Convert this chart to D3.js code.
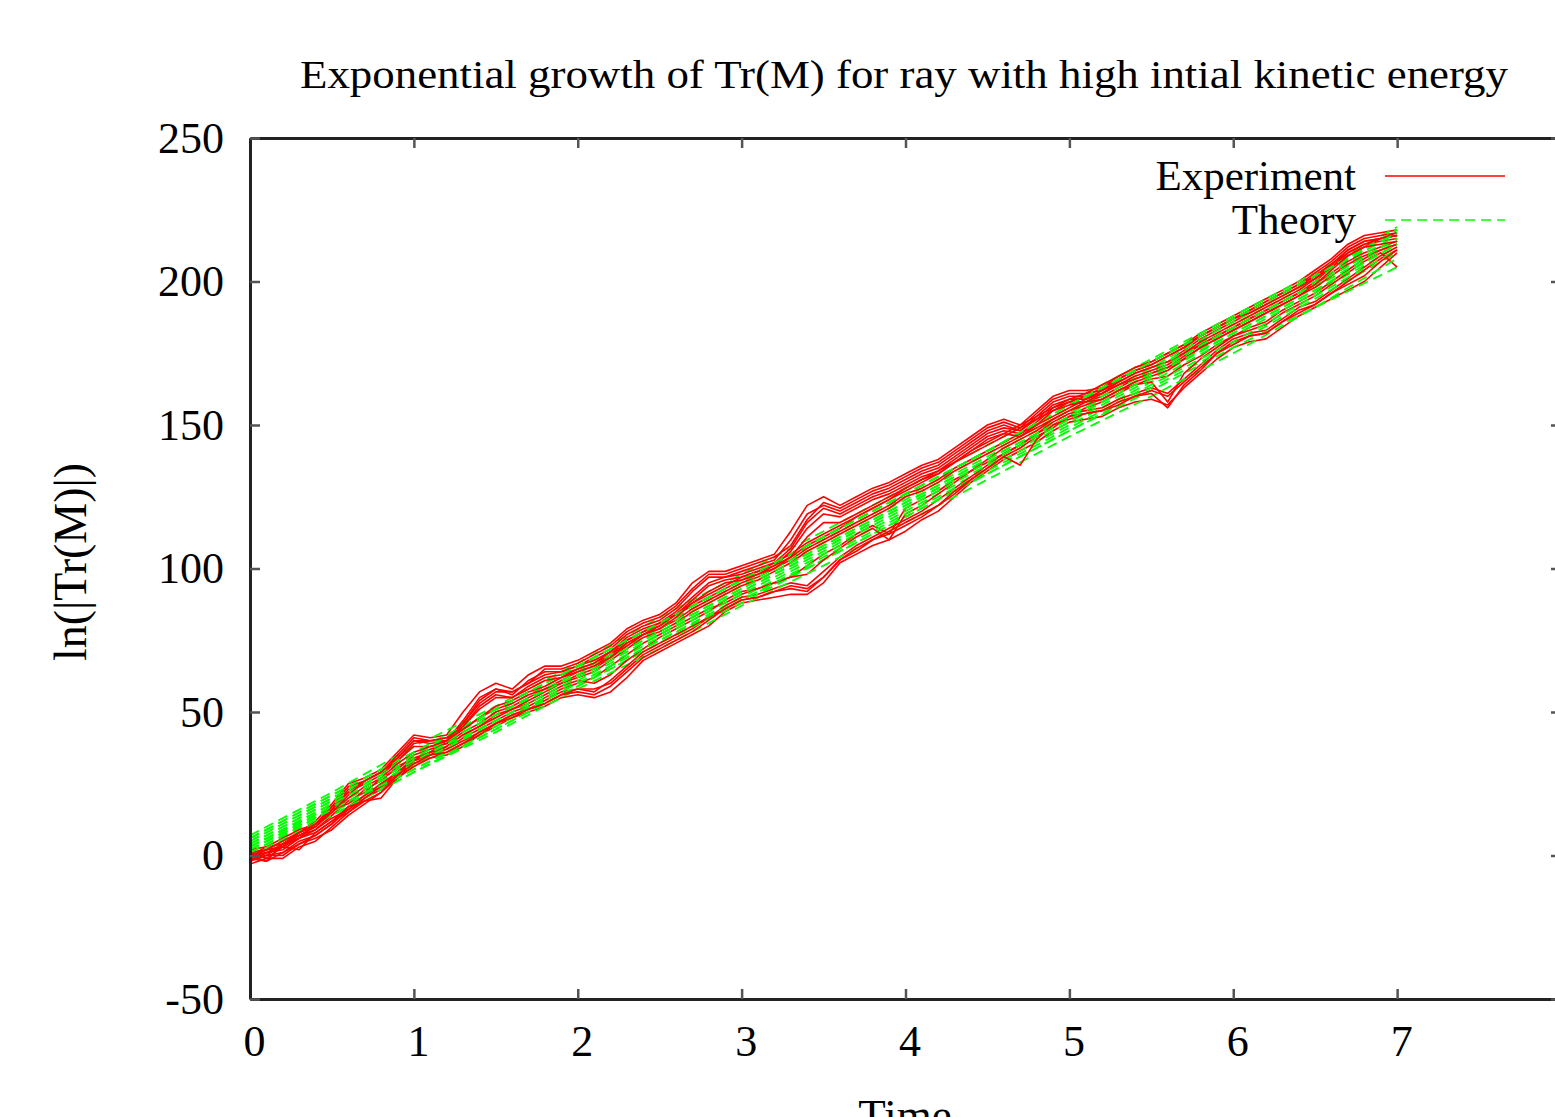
<!DOCTYPE html>
<html>
<head>
<meta charset="utf-8">
<script src="https://cdn.jsdelivr.net/npm/d3@7"></script>
<style>
    body { margin: 0; background: #fff; }
    #chart { width: 1555px; height: 1117px; overflow: hidden; }
    text { font-family: "Liberation Serif", "DejaVu Serif", serif; fill: #000; }
</style>
</head>
<body>
<div id="chart"></div>
<script>
// time grid for the experiment curves (step 0.1) and the theory lines (step 0.5)
const expTimes = d3.range(0, 71).map(i => i / 10);
const theoryTimes = d3.range(0, 15).map(i => i / 2);

const xTicks = [0, 1, 2, 3, 4, 5, 6, 7, 8];
const yTicks = [-50, 0, 50, 100, 150, 200, 250];

// experiment: ln|Tr(M)|, one array per ray
const exp1 = [0,2,5,8,12,18,25,27,30,36,42,41,42,50,57,60,58,63,66,66,68,71,74,79,82,84,88,95,99,99,101,103,105,113,122,125,122,125,128,130,133,136,138,142,146,150,152,150,155,160,162,162,163,167,170,172,175,178,182,185,188,191,194,197,200,204,208,213,216,217,218];
const exp2 = [-1,1,3,7,10,16,23,26,29,34,40,39,40,47,55,58,56,61,64,64,66,69,72,77,80,82,86,92,97,97,99,101,103,110,119,122,120,123,126,128,131,134,136,140,144,148,150,148,153,158,160,160,161,165,168,170,172,176,180,183,186,189,192,195,198,202,206,211,214,215,216];
const exp3 = [1,0,4,6,11,17,22,25,28,33,38,38,39,45,52,56,55,59,62,63,65,67,70,75,78,80,84,89,94,96,97,99,101,106,114,119,118,121,124,126,129,132,134,138,142,146,148,147,151,156,158,158,160,163,166,168,170,174,178,181,184,187,190,193,196,200,205,210,213,214,215];
const exp4 = [0,-2,4,7,9,14,19,22,27,30,35,37,39,43,46,50,52,55,58,61,64,66,70,74,77,79,82,86,89,92,95,97,100,103,107,110,113,116,119,122,126,128,131,135,138,141,144,147,150,153,156,159,162,165,168,170,172,175,178,181,184,187,190,193,196,199,203,207,210,212,214];
const exp5 = [-2,1,2,6,8,12,17,21,24,29,33,35,37,41,44,47,50,52,55,58,60,62,66,70,74,77,80,83,86,88,91,93,95,97,101,105,108,112,115,112,121,124,127,131,134,137,140,143,147,150,153,156,158,161,164,166,167,171,174,178,181,184,186,190,193,196,200,204,208,211,213];
const exp6 = [-3,-1,-1,3,5,10,15,19,20,27,32,34,35,38,42,45,48,50,52,55,56,55,57,62,68,71,74,77,80,85,88,89,90,91,91,95,102,105,108,110,113,117,120,125,130,134,138,141,144,148,151,152,153,156,158,159,157,163,168,173,177,179,180,184,188,191,194,197,200,205,210];
const exp7 = [-1,0,1,5,7,11,16,20,23,28,33,36,37,40,43,46,49,51,54,57,58,58,60,65,70,73,76,79,83,87,90,91,93,95,94,99,104,108,111,114,117,120,124,128,132,136,140,143,147,151,154,155,156,159,161,163,161,166,171,176,180,182,183,187,191,193,197,201,205,209,212];
const exp8 = [2,3,6,9,11,16,18,23,26,31,34,36,40,44,48,51,53,56,58,60,63,65,69,73,77,80,84,87,90,93,96,98,101,104,108,111,114,118,121,124,127,130,133,137,140,143,146,149,152,155,158,160,163,166,169,171,174,177,181,184,187,189,192,195,198,201,205,209,212,215,216];
const exp9 = [0,3,4,8,11,17,24,26,29,35,41,40,40,46,54,58,57,60,65,65,67,70,73,78,81,83,87,93,98,98,100,102,104,108,117,123,121,124,127,129,132,135,137,141,145,149,151,149,154,159,161,161,162,166,169,171,174,177,181,184,187,190,193,196,199,203,207,212,215,216,217];
const exp10 = [-1,2,3,6,9,13,16,21,25,29,34,35,38,42,45,48,51,53,56,59,61,60,63,68,72,76,79,82,85,89,92,93,95,97,98,103,107,111,114,110,119,122,126,130,134,138,142,145,148,152,155,157,159,162,164,165,158,168,173,177,181,183,185,189,192,195,199,203,207,210,205];
const exp11 = [0,1,4,7,10,16,22,26,29,33,39,40,41,46,53,57,57,60,63,64,66,68,71,76,79,81,85,90,95,97,98,100,102,107,116,121,119,122,125,127,130,133,135,139,143,147,149,148,152,157,159,159,161,164,167,169,171,175,179,182,185,188,191,194,197,201,206,211,214,215,216];
const exp12 = [1,-1,3,2,8,12,15,20,24,28,33,36,38,42,45,49,51,54,57,60,62,64,68,72,76,78,81,85,88,91,94,96,99,102,106,109,112,115,118,121,125,127,130,134,137,140,143,146,149,152,155,158,161,164,166,168,170,173,177,180,183,186,189,192,195,198,202,206,209,211,213];
const exp13 = [-2,0,0,4,6,9,14,18,22,27,31,34,36,39,43,46,49,51,53,56,58,57,61,66,71,74,77,80,83,86,89,90,92,94,93,97,103,106,110,113,116,119,122,126,131,135,139,142,146,149,153,154,155,157,160,162,160,165,170,175,179,181,182,186,190,192,196,200,204,208,211];
const exp14 = [1,2,5,8,11,15,20,24,27,32,36,38,40,44,48,52,54,57,59,62,65,67,71,75,78,81,84,88,91,94,97,99,102,105,109,112,115,118,121,124,128,131,134,137,141,144,147,150,153,156,159,161,164,167,170,172,175,178,181,184,187,190,193,196,199,202,206,210,213,215,217];
const exp15 = [-1,-2,1,4,7,11,17,19,22,28,32,35,36,39,42,46,48,51,53,56,57,56,59,64,69,72,75,78,82,86,89,90,92,93,92,97,103,107,110,112,115,118,122,127,131,135,139,136,145,150,152,154,155,158,160,161,156,164,169,175,178,181,182,186,189,192,196,199,202,207,211];
const exp16 = [0,2,3,8,10,15,21,26,29,34,40,40,41,45,51,55,55,58,61,62,64,66,69,74,77,79,83,88,92,95,96,98,100,104,111,116,116,119,122,125,128,131,133,137,141,145,147,146,150,155,157,158,159,162,165,167,169,173,177,180,183,186,189,192,195,199,204,209,212,213,214];

// theory: straight-ish prediction for each ray
const theory1 = [7,22,38,52,67,83,98,113,128,143,158,173,188,203,219];
const theory2 = [6,21,36,51,66,81,96,111,126,141,156,172,187,202,218];
const theory3 = [5,20,35,50,65,80,95,110,125,140,155,170,186,201,217];
const theory4 = [4,19,34,49,64,79,94,109,124,139,154,169,185,200,216];
const theory5 = [3,17,32,47,62,77,92,107,122,137,152,167,183,198,214];
const theory6 = [2,16,31,46,60,75,90,105,120,135,150,165,181,196,212];
const theory7 = [1,15,30,44,59,74,88,103,118,133,148,163,178,194,210];
const theory8 = [-1,14,29,44,59,74,89,103,118,133,148,162,177,191,205];
const theory9 = [3,18,33,48,63,78,93,108,123,138,153,168,184,199,215];
const theory10 = [0,14,29,43,58,72,87,101,116,131,146,160,175,191,208];
const theory11 = [5,20,35,51,66,81,96,111,126,141,157,172,187,202,218];
const theory12 = [2,17,32,46,61,76,91,106,121,136,151,166,182,197,213];
const theory13 = [4,19,34,49,63,78,93,108,123,138,153,168,184,199,215];
const theory14 = [1,16,30,45,60,75,89,104,119,134,149,164,179,195,211];
const theory15 = [6,21,36,51,66,81,96,111,126,141,157,172,187,202,217];
const theory16 = [3,18,33,47,62,77,92,107,122,137,152,167,182,197,213];

const experiments = [exp1, exp2, exp3, exp4, exp5, exp6, exp7, exp8, exp9, exp10, exp11, exp12, exp13, exp14, exp15, exp16];
const theories = [theory1, theory2, theory3, theory4, theory5, theory6, theory7, theory8, theory9, theory10, theory11, theory12, theory13, theory14, theory15, theory16];

const red = '#ff0000',
    green = '#00ff00';

let w = 1555,
    h = 1117;

let svg = d3.select('#chart')
    .append('svg')
        .attr('width', w)
        .attr('height', h);

const x = d3.scaleLinear()
    .domain([0, 8])
    .range([250, 1561]);

const y = d3.scaleLinear()
    .domain([-50, 250])
    .range([999, 138]);

// clip so nothing leaks past the frame
svg.append('clipPath')
    .attr('id', 'plot-clip')
    .append('rect')
        .attr('x', x(0))
        .attr('y', y(250))
        .attr('width', x(8) - x(0))
        .attr('height', y(-50) - y(250));

let line = d3.line()
    .x(d => x(d[0]))
    .y(d => y(d[1]));

let curves = svg.append('g').attr('clip-path', 'url(#plot-clip)');

// gnuplot draws each ray's pair in turn
experiments.forEach((series, i) => {
    curves.append('path')
        .attr('d', line(expTimes.map((t, j) => [t, series[j]])))
        .attr('fill', 'none')
        .attr('stroke', red)
        .attr('stroke-width', 1.6)
        .attr('stroke-linejoin', 'round');

    curves.append('path')
        .attr('d', line(theoryTimes.map((t, j) => [t, theories[i][j]])))
        .attr('fill', 'none')
        .attr('stroke', green)
        .attr('stroke-width', 1.8)
        .attr('stroke-dasharray', '10,6');
});

// axes, ticks pointing into the plot
let styleAxis = (g) => {
    g.select('.domain').attr('stroke', '#222').attr('stroke-width', 3);
    g.selectAll('.tick line').attr('stroke', '#555').attr('stroke-width', 2.5);
    g.selectAll('.tick text')
        .style('font-family', '"Liberation Serif", serif')
        .style('font-size', '44px')
        .attr('fill', '#000');
};

// gnuplot prints a plain hyphen for negatives
let plain = d => String(d);

svg.append('g')
    .attr('transform', `translate(0, ${y(-50)})`)
    .call(d3.axisBottom(x).tickValues(xTicks).tickFormat(plain).tickSize(-10).tickSizeOuter(0).tickPadding(26))
    .call(styleAxis)
    .selectAll('.tick text').attr('dx', '4');

svg.append('g')
    .attr('transform', `translate(0, ${y(250)})`)
    .call(d3.axisTop(x).tickValues(xTicks).tickFormat('').tickSize(-10).tickSizeOuter(0))
    .call(styleAxis);

svg.append('g')
    .attr('transform', `translate(${x(0)}, 0)`)
    .call(d3.axisLeft(y).tickValues(yTicks).tickFormat(plain).tickSize(-10).tickSizeOuter(0).tickPadding(26))
    .call(styleAxis);

svg.append('g')
    .attr('transform', `translate(${x(8)}, 0)`)
    .call(d3.axisRight(y).tickValues(yTicks).tickFormat('').tickSize(-10).tickSizeOuter(0))
    .call(styleAxis);

// title and axis labels
svg.append('text')
    .attr('x', 300)
    .attr('y', 88)
    .attr('textLength', 1208)
    .attr('lengthAdjust', 'spacingAndGlyphs')
    .style('font-size', '40px')
    .text('Exponential growth of Tr(M) for ray with high intial kinetic energy');

svg.append('text')
    .attr('transform', 'translate(86, 562) rotate(-90)')
    .attr('text-anchor', 'middle')
    .style('font-size', '46px')
    .text('ln(|Tr(M)|)');

svg.append('text')
    .attr('x', 905)
    .attr('y', 1130)
    .attr('text-anchor', 'middle')
    .style('font-size', '45px')
    .text('Time');

// legend
const legendItems = [
    {label: 'Experiment', color: red, dash: null, y: 176},
    {label: 'Theory', color: green, dash: '10,6', y: 220},
];

legendItems.forEach(item => {
    svg.append('text')
        .attr('x', 1356)
        .attr('y', item.y + 14)
        .attr('text-anchor', 'end')
        .style('font-size', '43px')
        .text(item.label);

    svg.append('line')
        .attr('x1', 1385)
        .attr('x2', 1505)
        .attr('y1', item.y)
        .attr('y2', item.y)
        .attr('stroke', item.color)
        .attr('stroke-width', 1.6)
        .attr('stroke-dasharray', item.dash);
});
</script>
</body>
</html>
